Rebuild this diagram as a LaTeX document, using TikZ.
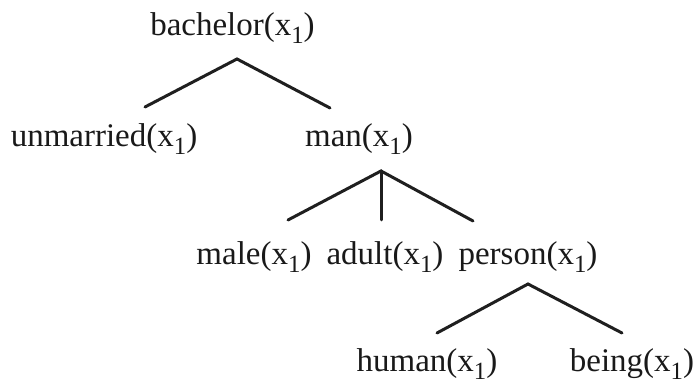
\documentclass[tikz,border=0pt]{standalone}
\usepackage{fontspec}
\setmainfont{Liberation Serif}
\newcommand{\xsubone}{(x\raisebox{-4pt}{\fontsize{12.4}{14}\selectfont 1})}
\tikzset{
  lbl/.style={anchor=base, inner sep=0pt, font=\fontsize{16.5}{20}\selectfont, text=black!90},
  branch/.style={draw=black!88, line width=1.5pt, line cap=round}
}
\begin{document}
\begin{tikzpicture}[x=0.5pt,y=-0.5pt]
\useasboundingbox (0,0) rectangle (697,383);
% labels
\node[lbl] (bachelor) at (232.5,36) {bachelor\xsubone};
\node[lbl] (unmarried) at (104,147) {unmarried\xsubone};
\node[lbl] (man) at (359,147) {man\xsubone};
\node[lbl] (male) at (254,265) {male\xsubone};
\node[lbl] (adult) at (385,265) {adult\xsubone};
\node[lbl] (person) at (528,265) {person\xsubone};
\node[lbl] (human) at (427,372) {human\xsubone};
\node[lbl] (being) at (632,372) {being\xsubone};
% branch points
\coordinate (bTop) at (237,59);
\coordinate (bL) at (145,107);
\coordinate (bR) at (330,108);
\coordinate (mTop) at (381,171);
\coordinate (mL) at (288,220);
\coordinate (mM) at (381,220);
\coordinate (mR) at (473,221);
\coordinate (pTop) at (528,284);
\coordinate (pL) at (437,333);
\coordinate (pR) at (622,333);
% branches
\draw[branch] (bL) -- (bTop) -- (bR);
\draw[branch] (mL) -- (mTop) -- (mR);
\draw[branch] (mTop) -- (mM);
\draw[branch] (pL) -- (pTop) -- (pR);
\end{tikzpicture}
\end{document}
